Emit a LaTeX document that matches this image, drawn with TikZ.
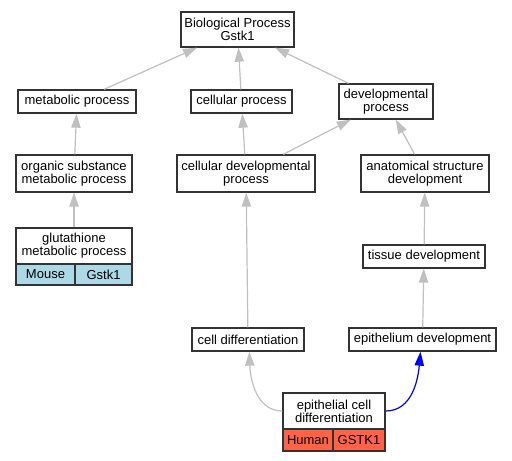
\documentclass[tikz,border=0pt]{standalone}
\usepackage{fontspec}
\setmainfont{Liberation Sans}
\usetikzlibrary{arrows.meta}
\definecolor{edgegray}{HTML}{C0C0C0}
\definecolor{boxline}{HTML}{333333}
\definecolor{mouseblue}{HTML}{ADD8E6}
\definecolor{humanred}{HTML}{FF6347}
\begin{document}
\begin{tikzpicture}[x=0.75pt,y=-0.75pt,
  box/.style={draw=boxline, line width=1pt, fill=white, align=center, inner sep=0pt,
    font=\fontsize{9.75}{9.75}\selectfont},
  cellbox/.style={box},
  edge/.style={draw=edgegray, line width=0.9pt, -{Triangle[length=10.5pt,width=7pt]}},
  blueedge/.style={edge, draw=blue, -{Triangle[length=10.5pt,width=7pt,fill=blue]}}]
\useasboundingbox[fill=white] (0,0) rectangle (512,461);
\newcommand\bx[6][]{\node[box,#1,minimum width=#4*0.75pt,minimum height=#5*0.75pt] (#2) at (#3) {#6};}
\bx{bp}{237.5,29.5}{113}{35}{Biological Process\\Gstk1}
\bx{meta}{77,101.5}{118}{23}{metabolic process}
\bx{cell}{241.5,101.5}{101}{23}{cellular process}
\bx{dev}{386,101.5}{94}{35}{developmental\\process}
\bx{org}{74,173.5}{116}{37}{organic substance\\metabolic process}
\bx{celldev}{246,173.5}{138}{37}{cellular developmental\\process}
\bx{anat}{425,173.5}{128}{37}{anatomical structure\\development}
\bx{glut}{74,246}{116}{36}{glutathione\\metabolic process}
\bx[fill=mouseblue]{glutA}{45.5,274.5}{59}{21}{Mouse}
\bx[fill=mouseblue]{glutB}{103.5,274.5}{57}{21}{Gstk1}
\bx{tis}{424,256.5}{122}{23}{tissue development}
\bx{cdiff}{248,339.5}{112}{23}{cell differentiation}
\bx{epidev}{422.5,339.5}{147}{23}{epithelium development}
\bx{epi}{334,411}{102}{36}{epithelial cell\\differentiation}
\bx[fill=humanred]{epiA}{308,440}{50}{22}{Human}
\bx[fill=humanred]{epiB}{359,440}{52}{22}{GSTK1}
\draw[edge] (meta) -- (bp);
\draw[edge] (cell) -- (bp);
\draw[edge] (dev) -- (bp);
\draw[edge] (org) -- (meta);
\draw[edge] (celldev) -- (cell);
\draw[edge] (celldev) -- (dev);
\draw[edge] (anat) -- (dev);
\draw[edge] (glut) -- (org);
\draw[edge] (tis) -- (anat);
\draw[edge] (cdiff) -- (celldev);
\draw[edge] (epidev) -- (tis);
\draw[edge] (epi.west) to[out=180,in=-88] ([xshift=1pt]cdiff.south);
\draw[blueedge] (epi.east) to[out=0,in=-95] ([xshift=-1.5pt]epidev.south);
\end{tikzpicture}
\end{document}
